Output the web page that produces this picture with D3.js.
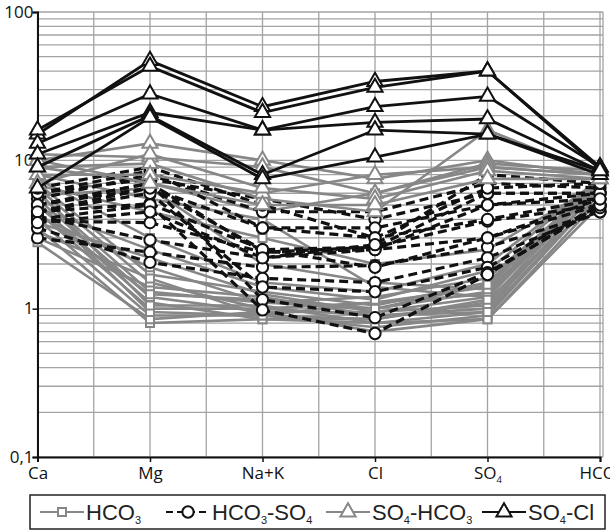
<!DOCTYPE html>
<html>
<head>
<meta charset="utf-8">
<script src="https://cdn.jsdelivr.net/npm/d3@7"></script>
<style>
  body { margin: 0; background: #fff; }
  .tick-label { font-family: "Open Sans", sans-serif; font-size: 17px; fill: #111; }
  .legend-label { font-family: "Liberation Sans", Arial, sans-serif; font-size: 22px; fill: #222; }
</style>
</head>
<body>
<svg class="scene"></svg>
<script>

//
// data
//

var categories = ["Ca", "Mg", "Na+K", "Cl", "SO_4", "HCO_3"];
var y_ticks = [100, 10, 1, 0.1];
var y_tick_labels = ["100", "10", "1", "0,1"];

var legend_names = ["HCO_3", "HCO_3-SO_4", "SO_4-HCO_3", "SO_4-Cl"];

// HCO3 type (grey, squares)
var hco3 = [
    [3.5, 0.8, 0.85, 0.8, 0.85, 5.5],
    [4, 0.9, 0.9, 0.75, 0.9, 6],
    [4.5, 1.0, 1.0, 0.9, 1.0, 6.5],
    [5, 1.1, 0.85, 0.85, 1.1, 7],
    [5.5, 1.2, 0.95, 0.95, 1.2, 7],
    [6, 1.3, 1.1, 1.0, 1.3, 7.5],
    [3, 1.4, 1.2, 0.9, 0.95, 6],
    [2.8, 0.85, 0.95, 0.7, 0.85, 5],
    [6.5, 1.5, 1.0, 1.1, 1.4, 7.5],
    [7, 1.7, 1.3, 1.05, 1.5, 7.5],
    [4.2, 1.9, 1.1, 1.2, 1.6, 7],
    [3.8, 2.2, 1.25, 0.95, 1.05, 6.5],
    [5.2, 0.95, 0.9, 1.1, 1.25, 7],
    [6.2, 1.05, 1.05, 0.8, 0.95, 6],
    [4.8, 2.5, 1.4, 1.15, 1.8, 7.5],
    [7.5, 3, 1.5, 1.3, 2.0, 7.5],
    [8, 5.5, 4, 1.4, 1.2, 7],
    [5.8, 6.5, 2.0, 1.5, 1.35, 6.5],
    [3.3, 1.6, 0.9, 0.85, 1.15, 5.5],
    [4.4, 1.25, 1.15, 1.0, 1.45, 6.8],
    [9, 7, 4.5, 6, 9, 8],
    [6.8, 4.5, 3, 2, 2.5, 7]
];

// HCO3-SO4 type (black dashed, circles)
var hco3_so4 = [
    [6, 7.5, 5.5, 4, 6, 6],
    [5.5, 8, 4.5, 4.5, 7, 6.5],
    [5, 6.5, 3.5, 3.5, 5, 5.5],
    [4.5, 5.1, 2.5, 2.6, 6, 6],
    [3.9, 3.8, 2.4, 2.6, 3.9, 5],
    [4.2, 2.9, 2.2, 2.5, 3, 5],
    [3, 2.4, 1.9, 1.95, 2.6, 4.5],
    [3.5, 2.05, 1.6, 1.5, 2.2, 4.5],
    [4.5, 6, 1.4, 1.3, 1.9, 5],
    [5, 7, 1.15, 0.87, 1.75, 4.8],
    [4, 5, 0.98, 0.68, 1.7, 5],
    [6, 8.5, 3.5, 3, 4, 5.5],
    [5, 7, 2.4, 2.5, 5, 6],
    [4.5, 6.5, 2.5, 1.9, 3, 5.5],
    [6.5, 9, 5, 3, 6.5, 7],
    [3.8, 4.5, 2.2, 2.7, 8, 7]
];

// SO4-HCO3 type (grey, triangles)
var so4_hco3 = [
    [10, 13, 10, 7.5, 10, 8],
    [11, 10.5, 9, 6, 9.5, 8.5],
    [9, 9.5, 5.5, 4.5, 16, 8],
    [8, 8, 6, 8, 9, 8],
    [7, 11, 6.5, 5.5, 8.5, 7.5],
    [10, 7, 5, 5, 7.5, 7.5]
];

// SO4-Cl type (black, triangles)
var so4_cl = [
    [15, 47, 23, 34, 40, 9],
    [16, 43, 21, 31, 40, 8.7],
    [13, 28, 16, 23, 27, 9],
    [11, 21, 16, 18, 19, 8.5],
    [9, 20, 8, 16, 15, 8],
    [6.5, 19.5, 7.5, 10.5, 15, 8.5]
];

//
// scene
//

var width = 610,
    height = 531;

var grey = "#878787";
var grid_colour = "#a3a3a3";

var scene = d3.select(".scene")
    .attr("width", width)
    .attr("height", height);

var x = d3.scalePoint()
    .domain(categories)
    .range([37.5, 600]);

var y = d3.scaleLog()
    .domain([0.1, 100])
    .range([457, 12]);

var step = x.step();

// text with "_n" subscripts
function set_label(sel, label, sub_size, shift) {
    var parts = label.split(/_(\d)/);
    var lowered = false;
    parts.forEach(function (p, i) {
        if (p === "") return;
        var ts = sel.append("tspan").text(p);
        if (i % 2 === 1) {
            ts.attr("dy", shift).attr("font-size", sub_size);
            lowered = true;
        } else if (lowered) {
            ts.attr("dy", -shift);
            lowered = false;
        }
    });
}

//
// grid
//

var grid = scene.append("g");

var minor = [];
[0.1, 1, 10].forEach(function (d) {
    for (var k = 1; k < 10; k++) minor.push(d * k);
});
minor.push(100);

grid.selectAll("line.h")
    .data(minor)
    .enter().append("line")
    .attr("x1", x(categories[0]))
    .attr("x2", x(categories[5]) + 3)
    .attr("y1", function (d) { return y(d); })
    .attr("y2", function (d) { return y(d); })
    .attr("stroke", grid_colour)
    .attr("stroke-width", 1.3);

var vlines = d3.range(0, 11).map(function (i) { return x(categories[0]) + i * step / 2; });
vlines.push(x(categories[5]) + 3);
grid.selectAll("line.v")
    .data(vlines)
    .enter().append("line")
    .attr("x1", function (d) { return d; })
    .attr("x2", function (d) { return d; })
    .attr("y1", y(100))
    .attr("y2", y(0.1))
    .attr("stroke", grid_colour)
    .attr("stroke-width", 1.3);

//
// axes
//

var y_axis = scene.append("g")
    .attr("transform", "translate(" + x(categories[0]) + ",0)")
    .call(d3.axisLeft(y).tickValues(y_ticks).tickSize(5).tickFormat(function (d, i) {
        return y_tick_labels[i];
    }));
y_axis.select(".domain").attr("stroke", "#111").attr("stroke-width", 2);
y_axis.selectAll(".tick line").attr("stroke", "#111").attr("stroke-width", 1.5);
y_axis.selectAll(".tick text")
    .attr("class", "tick-label")
    .attr("x", -4)
    .attr("dy", "0.3em");

var x_axis = scene.append("g")
    .attr("transform", "translate(0," + y(0.1) + ")")
    .call(d3.axisBottom(x).tickSize(5).tickFormat(""));
x_axis.select(".domain").attr("stroke", "#111").attr("stroke-width", 2);
x_axis.selectAll(".tick line").attr("stroke", "#111").attr("stroke-width", 1.5);

x_axis.selectAll(".tick").each(function (d) {
    var t = d3.select(this).append("text")
        .attr("class", "tick-label")
        .attr("y", 22)
        .attr("text-anchor", "middle");
    set_label(t, d, 9.5, 4);
});

//
// series
//

var line = d3.line()
    .x(function (d, i) { return x(categories[i]); })
    .y(function (d) { return y(d); });

var groups = [
    { data: hco3, colour: grey, dash: null, width: 2.6, marker: "square" },
    { data: hco3_so4, colour: "#111", dash: "9,5", width: 3.2, marker: "circle" },
    { data: so4_hco3, colour: grey, dash: null, width: 2.6, marker: "triangle" },
    { data: so4_cl, colour: "#111", dash: null, width: 2.8, marker: "triangle" }
];

var symbols = {
    square: d3.symbol().type(d3.symbolSquare).size(64),
    circle: d3.symbol().type(d3.symbolCircle).size(100),
    triangle: d3.symbol().type(d3.symbolTriangle).size(100)
};

groups.forEach(function (g) {
    var layer = scene.append("g");
    g.data.forEach(function (row) {
        layer.append("path")
            .attr("d", line(row))
            .attr("fill", "none")
            .attr("stroke", g.colour)
            .attr("stroke-width", g.width)
            .attr("stroke-dasharray", g.dash);
        layer.selectAll(null)
            .data(row)
            .enter().append("path")
            .attr("d", symbols[g.marker])
            .attr("transform", function (d, i) {
                return "translate(" + x(categories[i]) + "," + y(d) + ")";
            })
            .attr("fill", "#fff")
            .attr("stroke", g.colour)
            .attr("stroke-width", 2);
    });
});

//
// legend
//

var legend = scene.append("g");
legend.append("rect")
    .attr("x", 30)
    .attr("y", 495)
    .attr("width", 575)
    .attr("height", 34)
    .attr("fill", "#fff")
    .attr("stroke", "#222")
    .attr("stroke-width", 1.5);

var legend_x = [40, 166, 326, 482];
groups.forEach(function (g, i) {
    var item = legend.append("g")
        .attr("transform", "translate(" + legend_x[i] + ",512)");
    item.append("line")
        .attr("x1", 0)
        .attr("x2", 44)
        .attr("stroke", g.colour)
        .attr("stroke-width", 2.2)
        .attr("stroke-dasharray", g.dash ? "7,4" : null);
    item.append("path")
        .attr("d", symbols[g.marker])
        .attr("transform", "translate(22,0)")
        .attr("fill", "#fff")
        .attr("stroke", g.colour)
        .attr("stroke-width", 2);
    var t = item.append("text")
        .attr("class", "legend-label")
        .attr("x", 46)
        .attr("y", 8);
    set_label(t, legend_names[i], 11, 4);
});

</script>
</body>
</html>
